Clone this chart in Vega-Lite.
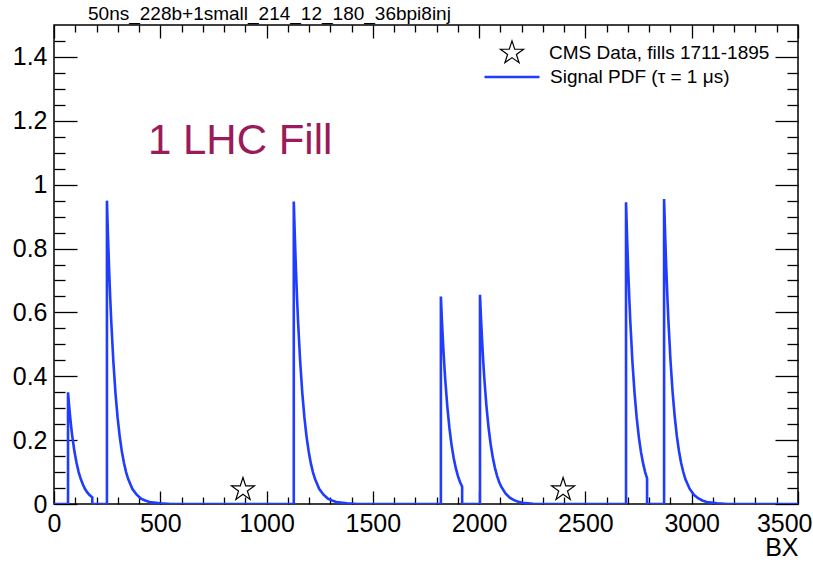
{
  "$schema": "https://vega.github.io/schema/vega-lite/v6.json",
  "width": 744,
  "height": 479,
  "autosize": {"type": "none"},
  "padding": {"left": 54, "top": 25, "right": 15, "bottom": 59},
  "background": "white",
  "title": {
    "text": "50ns_228b+1small_214_12_180_36bpi8inj",
    "anchor": "start",
    "frame": "group",
    "dx": 34,
    "offset": -15,
    "baseline": "alphabetic",
    "font": "Liberation Sans",
    "fontSize": 19,
    "fontWeight": "normal",
    "color": "black"
  },
  "datasets": {
    "signal": [
      {"bx": 0, "pdf": 0}, {"bx": 66, "pdf": 0}, {"bx": 66, "pdf": 0.35}, {"bx": 71, "pdf": 0.309}, {"bx": 76, "pdf": 0.273},
      {"bx": 81, "pdf": 0.241}, {"bx": 86, "pdf": 0.212}, {"bx": 96, "pdf": 0.165}, {"bx": 106, "pdf": 0.129}, {"bx": 116, "pdf": 0.1},
      {"bx": 126, "pdf": 0.078}, {"bx": 136, "pdf": 0.061}, {"bx": 146, "pdf": 0.047}, {"bx": 156, "pdf": 0.037}, {"bx": 166, "pdf": 0.029},
      {"bx": 180, "pdf": 0.021}, {"bx": 180, "pdf": 0}, {"bx": 249, "pdf": 0}, {"bx": 249, "pdf": 0.95}, {"bx": 254, "pdf": 0.838},
      {"bx": 259, "pdf": 0.74}, {"bx": 264, "pdf": 0.653}, {"bx": 269, "pdf": 0.576}, {"bx": 279, "pdf": 0.449}, {"bx": 289, "pdf": 0.349},
      {"bx": 299, "pdf": 0.272}, {"bx": 309, "pdf": 0.212}, {"bx": 319, "pdf": 0.165}, {"bx": 329, "pdf": 0.129}, {"bx": 339, "pdf": 0.1},
      {"bx": 349, "pdf": 0.078}, {"bx": 369, "pdf": 0.047}, {"bx": 389, "pdf": 0.029}, {"bx": 409, "pdf": 0.017}, {"bx": 429, "pdf": 0.011},
      {"bx": 449, "pdf": 0.006}, {"bx": 499, "pdf": 0.002}, {"bx": 549, "pdf": 0}, {"bx": 1128, "pdf": 0}, {"bx": 1128, "pdf": 0.947},
      {"bx": 1133, "pdf": 0.836}, {"bx": 1138, "pdf": 0.738}, {"bx": 1143, "pdf": 0.651}, {"bx": 1148, "pdf": 0.574}, {"bx": 1158, "pdf": 0.447},
      {"bx": 1168, "pdf": 0.348}, {"bx": 1178, "pdf": 0.271}, {"bx": 1188, "pdf": 0.211}, {"bx": 1198, "pdf": 0.165}, {"bx": 1208, "pdf": 0.128},
      {"bx": 1218, "pdf": 0.1}, {"bx": 1228, "pdf": 0.078}, {"bx": 1248, "pdf": 0.047}, {"bx": 1268, "pdf": 0.029}, {"bx": 1288, "pdf": 0.017},
      {"bx": 1308, "pdf": 0.011}, {"bx": 1328, "pdf": 0.006}, {"bx": 1378, "pdf": 0.002}, {"bx": 1428, "pdf": 0}, {"bx": 1820, "pdf": 0},
      {"bx": 1820, "pdf": 0.65}, {"bx": 1825, "pdf": 0.574}, {"bx": 1830, "pdf": 0.506}, {"bx": 1835, "pdf": 0.447}, {"bx": 1840, "pdf": 0.394},
      {"bx": 1850, "pdf": 0.307}, {"bx": 1860, "pdf": 0.239}, {"bx": 1870, "pdf": 0.186}, {"bx": 1880, "pdf": 0.145}, {"bx": 1890, "pdf": 0.113},
      {"bx": 1900, "pdf": 0.088}, {"bx": 1910, "pdf": 0.069}, {"bx": 1920, "pdf": 0.054}, {"bx": 1920, "pdf": 0}, {"bx": 2004, "pdf": 0},
      {"bx": 2004, "pdf": 0.655}, {"bx": 2009, "pdf": 0.578}, {"bx": 2014, "pdf": 0.51}, {"bx": 2019, "pdf": 0.45}, {"bx": 2024, "pdf": 0.397},
      {"bx": 2034, "pdf": 0.309}, {"bx": 2044, "pdf": 0.241}, {"bx": 2054, "pdf": 0.188}, {"bx": 2064, "pdf": 0.146}, {"bx": 2074, "pdf": 0.114},
      {"bx": 2084, "pdf": 0.089}, {"bx": 2094, "pdf": 0.069}, {"bx": 2104, "pdf": 0.054}, {"bx": 2124, "pdf": 0.033}, {"bx": 2144, "pdf": 0.02},
      {"bx": 2164, "pdf": 0.012}, {"bx": 2184, "pdf": 0.007}, {"bx": 2204, "pdf": 0.004}, {"bx": 2254, "pdf": 0.001}, {"bx": 2304, "pdf": 0},
      {"bx": 2691, "pdf": 0}, {"bx": 2691, "pdf": 0.945}, {"bx": 2696, "pdf": 0.834}, {"bx": 2701, "pdf": 0.736}, {"bx": 2706, "pdf": 0.649},
      {"bx": 2711, "pdf": 0.573}, {"bx": 2721, "pdf": 0.446}, {"bx": 2731, "pdf": 0.348}, {"bx": 2741, "pdf": 0.271}, {"bx": 2751, "pdf": 0.211},
      {"bx": 2761, "pdf": 0.164}, {"bx": 2771, "pdf": 0.128}, {"bx": 2781, "pdf": 0.1}, {"bx": 2790, "pdf": 0.08}, {"bx": 2790, "pdf": 0},
      {"bx": 2870, "pdf": 0}, {"bx": 2870, "pdf": 0.955}, {"bx": 2875, "pdf": 0.843}, {"bx": 2880, "pdf": 0.744}, {"bx": 2885, "pdf": 0.656},
      {"bx": 2890, "pdf": 0.579}, {"bx": 2900, "pdf": 0.451}, {"bx": 2910, "pdf": 0.351}, {"bx": 2920, "pdf": 0.274}, {"bx": 2930, "pdf": 0.213},
      {"bx": 2940, "pdf": 0.166}, {"bx": 2950, "pdf": 0.129}, {"bx": 2960, "pdf": 0.101}, {"bx": 2970, "pdf": 0.078}, {"bx": 2990, "pdf": 0.048},
      {"bx": 3010, "pdf": 0.029}, {"bx": 3030, "pdf": 0.018}, {"bx": 3050, "pdf": 0.011}, {"bx": 3070, "pdf": 0.006}, {"bx": 3120, "pdf": 0.002},
      {"bx": 3170, "pdf": 0}, {"bx": 3564, "pdf": 0}
    ],
    "cms": [
      {"bx": 889, "v": 0.045},
      {"bx": 2395, "v": 0.045}
    ],
    "note": [
      {"bx": 442, "v": 1.096, "label": "1 LHC Fill"}
    ]
  },
  "resolve": {
    "scale": {"x": "shared", "y": "shared"},
    "axis": {"x": "independent", "y": "independent"}
  },
  "layer": [
    {
      "data": {"name": "signal"},
      "mark": {"type": "line", "clip": true, "strokeWidth": 2.6, "interpolate": "linear"},
      "encoding": {
        "x": {
          "field": "bx", "type": "quantitative",
          "scale": {"domain": [0, 3500], "nice": false, "zero": false},
          "axis": {
            "orient": "bottom",
            "values": [0, 500, 1000, 1500, 2000, 2500, 3000, 3500],
            "format": "d",
            "tickSize": -13,
            "labelPadding": 20,
            "labelAlign": {"condition": {"test": "datum.value === 3500", "value": "right"}, "value": "center"},
            "labelOffset": {"condition": {"test": "datum.value === 3500", "value": 14}, "value": 0},
            "title": "BX",
            "titleFontSize": 25,
            "titleAnchor": "end",
            "titleAlign": "right",
            "titleBaseline": "alphabetic",
            "titleX": 744,
            "titleY": 51
          }
        },
        "y": {
          "field": "pdf", "type": "quantitative",
          "scale": {"domain": [0, 1.5], "nice": false, "zero": false},
          "axis": {
            "orient": "left",
            "values": [0, 0.2, 0.4, 0.6, 0.8, 1, 1.2, 1.4],
            "format": "~g",
            "tickSize": -23,
            "labelPadding": 30,
            "title": null
          }
        },
        "order": {"value": null},
        "color": {
          "datum": "Signal PDF (τ = 1 μs)",
          "scale": {"range": ["#1f3cff"]},
          "legend": {
            "orient": "none",
            "legendX": 429,
            "legendY": 23,
            "title": null,
            "symbolType": "stroke",
            "symbolSize": 3025,
            "symbolStrokeWidth": 2.4,
            "labelFont": "Liberation Sans",
            "labelFontSize": 19,
            "labelColor": "black",
            "labelOffset": 9,
            "labelLimit": 400,
            "padding": 0
          }
        }
      }
    },
    {
      "data": {"name": "cms"},
      "mark": {"type": "point", "filled": false, "color": "black", "strokeWidth": 1.2, "size": 585, "opacity": 1},
      "encoding": {
        "x": {
          "field": "bx", "type": "quantitative",
          "scale": {"domain": [0, 3500], "nice": false, "zero": false},
          "axis": {
            "orient": "bottom",
            "values": [100, 200, 300, 400, 600, 700, 800, 900, 1100, 1200, 1300, 1400, 1600, 1700, 1800, 1900, 2100, 2200, 2300, 2400, 2600, 2700, 2800, 2900, 3100, 3200, 3300, 3400],
            "tickSize": -7,
            "labels": false,
            "title": null
          }
        },
        "y": {
          "field": "v", "type": "quantitative",
          "scale": {"domain": [0, 1.5], "nice": false, "zero": false},
          "axis": {
            "orient": "left",
            "values": [0.05, 0.1, 0.15, 0.25, 0.3, 0.35, 0.45, 0.5, 0.55, 0.65, 0.7, 0.75, 0.85, 0.9, 0.95, 1.05, 1.1, 1.15, 1.25, 1.3, 1.35, 1.45],
            "tickSize": -11,
            "labels": false,
            "title": null
          }
        },
        "shape": {
          "datum": "CMS Data, fills 1711-1895",
          "scale": {"range": ["M0,-1L0.2245,-0.309L0.951,-0.309L0.363,0.118L0.588,0.809L0,0.382L-0.588,0.809L-0.363,0.118L-0.951,-0.309L-0.2245,-0.309Z"]},
          "legend": {
            "orient": "none",
            "legendX": 445,
            "legendY": 15,
            "title": null,
            "symbolSize": 585,
            "symbolStrokeColor": "black",
            "symbolFillColor": "transparent",
            "symbolStrokeWidth": 1.2,
            "labelFont": "Liberation Sans",
            "labelFontSize": 19,
            "labelColor": "black",
            "labelOffset": 24,
            "labelLimit": 400,
            "padding": 0
          }
        }
      }
    },
    {
      "data": {"name": "note"},
      "mark": {"type": "text", "font": "Liberation Sans", "fontSize": 42, "color": "#9b1b5a", "align": "left", "baseline": "alphabetic"},
      "encoding": {
        "x": {
          "field": "bx", "type": "quantitative",
          "scale": {"domain": [0, 3500], "nice": false, "zero": false},
          "axis": {
            "orient": "top",
            "values": [0, 500, 1000, 1500, 2000, 2500, 3000, 3500],
            "tickSize": -13,
            "labels": false,
            "title": null
          }
        },
        "y": {
          "field": "v", "type": "quantitative",
          "scale": {"domain": [0, 1.5], "nice": false, "zero": false},
          "axis": {
            "orient": "right",
            "values": [0, 0.2, 0.4, 0.6, 0.8, 1, 1.2, 1.4],
            "tickSize": -23,
            "labels": false,
            "title": null
          }
        },
        "text": {"field": "label"}
      }
    },
    {
      "data": {"name": "note"},
      "mark": {"type": "text", "opacity": 0},
      "encoding": {
        "x": {
          "field": "bx", "type": "quantitative",
          "scale": {"domain": [0, 3500], "nice": false, "zero": false},
          "axis": {
            "orient": "top",
            "values": [100, 200, 300, 400, 600, 700, 800, 900, 1100, 1200, 1300, 1400, 1600, 1700, 1800, 1900, 2100, 2200, 2300, 2400, 2600, 2700, 2800, 2900, 3100, 3200, 3300, 3400],
            "tickSize": -7,
            "labels": false,
            "title": null
          }
        },
        "y": {
          "field": "v", "type": "quantitative",
          "scale": {"domain": [0, 1.5], "nice": false, "zero": false},
          "axis": {
            "orient": "right",
            "values": [0.05, 0.1, 0.15, 0.25, 0.3, 0.35, 0.45, 0.5, 0.55, 0.65, 0.7, 0.75, 0.85, 0.9, 0.95, 1.05, 1.1, 1.15, 1.25, 1.3, 1.35, 1.45],
            "tickSize": -11,
            "labels": false,
            "title": null
          }
        },
        "text": {"value": ""}
      }
    }
  ],
  "config": {
    "font": "Liberation Sans",
    "view": {"stroke": "black", "strokeWidth": 1.5},
    "axis": {
      "domain": false,
      "grid": false,
      "tickColor": "black",
      "tickWidth": 1.3,
      "labelFont": "Liberation Sans",
      "labelFontSize": 25,
      "labelColor": "black",
      "labelFlush": false,
      "labelOverlap": false,
      "titleFont": "Liberation Sans",
      "titleFontWeight": "normal",
      "titleColor": "black"
    }
  }
}
